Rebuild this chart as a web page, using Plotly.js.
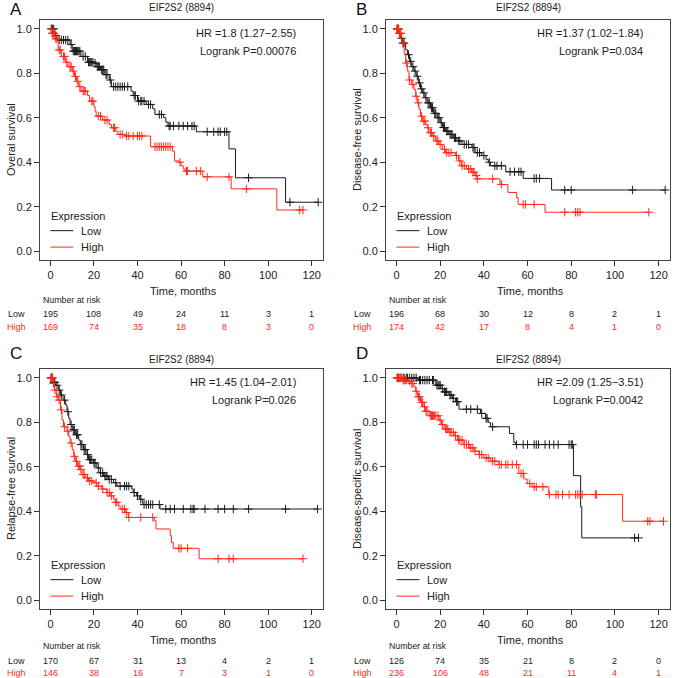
<!DOCTYPE html>
<html><head><meta charset="utf-8">
<script src="https://cdn.plot.ly/plotly-3.0.1.min.js"></script>
<style>html,body{margin:0;padding:0;background:#fff}#chart{width:676px;height:678px}</style>
</head><body><div id="chart"></div>
<script>
// ---------- DATA ----------
const xTicks = [0, 20, 40, 60, 80, 100, 120];
const yTicks = [0, 0.2, 0.4, 0.6, 0.8, 1.0];
const geneTitle = "EIF2S2 (8894)";
const panelLetters = ["A", "B", "C", "D"];
const yTitles = ["Overal survival", "Disease-free survival", "Relapse-free survival", "Disease-specific survival"];
const hrTexts = ["HR =1.8 (1.27\u22122.55)", "HR =1.37 (1.02\u22121.84)", "HR =1.45 (1.04\u22122.01)", "HR =2.09 (1.25\u22123.51)"];
const pTexts = ["Logrank P=0.00076", "Logrank P=0.034", "Logrank P=0.026", "Logrank P=0.0042"];
const groupNames = ["Low", "High"];

// Number at risk
const riskLowA = [195, 108, 49, 24, 11, 3, 1];
const riskHighA = [169, 74, 35, 18, 8, 3, 0];
const riskLowB = [196, 68, 30, 12, 8, 2, 1];
const riskHighB = [174, 42, 17, 8, 4, 1, 0];
const riskLowC = [170, 67, 31, 13, 4, 2, 1];
const riskHighC = [146, 38, 16, 7, 3, 1, 0];
const riskLowD = [126, 74, 35, 21, 8, 2, 0];
const riskHighD = [236, 106, 48, 21, 11, 4, 1];

// Panel A (overall survival)
const lowA_t = [0, 2, 3, 9, 10, 14, 17, 20, 21, 23, 25, 27, 28, 37, 38, 40, 44, 47, 48, 52, 53, 54, 67, 82, 85, 108, 123];
const lowA_s = [1, 0.97, 0.95, 0.93, 0.90, 0.876, 0.85, 0.846, 0.83, 0.816, 0.794, 0.77, 0.74, 0.72, 0.70, 0.675, 0.66, 0.64, 0.615, 0.60, 0.58, 0.563, 0.537, 0.46, 0.33, 0.22, 0.22];
const lowA_c = [0.5, 1, 1.5, 2.5, 4, 5, 6, 7, 8, 9.5, 10.5, 11, 11.5, 12, 12.5, 13, 13.5, 15, 16, 17.5, 18, 18.5, 19, 19.5, 20.5, 21.5, 22, 22.5, 23.5, 24, 24.5, 25.5, 26, 27.5, 29, 30, 31, 32, 33, 34, 35.5, 38.5, 39, 40.5, 41.5, 42, 43, 45, 46, 50, 51, 54.5, 55, 56.5, 59, 61, 63, 65, 66, 72, 75, 77, 78, 80, 81, 91, 110, 123];
const highA_t = [0, 0.5, 2, 3.5, 5, 7, 8, 10, 11, 12, 13, 14, 17, 18, 20, 20.5, 21, 24, 27, 28, 30, 31, 34, 46, 56, 57, 59, 60, 61, 62, 70, 83, 104, 116];
const highA_s = [1, 0.98, 0.955, 0.905, 0.876, 0.85, 0.83, 0.81, 0.786, 0.764, 0.74, 0.72, 0.70, 0.675, 0.65, 0.63, 0.607, 0.59, 0.57, 0.555, 0.54, 0.525, 0.518, 0.47, 0.45, 0.406, 0.40, 0.384, 0.37, 0.36, 0.334, 0.28, 0.185, 0.185];
const highA_c = [0.3, 0.8, 1, 1.3, 1.8, 2.5, 3, 4, 4.5, 6, 6.5, 7.5, 9, 9.5, 10.5, 11.5, 12.5, 13.5, 15, 15.5, 16, 19, 19.5, 22, 23, 25, 26, 29, 29.5, 32, 33, 35, 36, 38, 40, 41, 42, 48, 49, 50, 51, 52, 53, 54, 55, 59.5, 62.5, 63, 67, 69, 72, 82, 90, 114.5, 116];

// Panel B (disease-free survival)
const lowB_t = [0, 1.2, 2, 2.7, 4.2, 5, 6, 7, 8, 9, 10, 11, 12, 13, 14, 15.6, 17, 18.6, 20, 21, 22.4, 24, 26, 27.7, 30, 34.5, 36, 39, 41, 42, 43, 50, 58, 71, 123];
const lowB_s = [1, 0.98, 0.958, 0.936, 0.906, 0.884, 0.854, 0.83, 0.81, 0.787, 0.757, 0.73, 0.712, 0.69, 0.667, 0.645, 0.62, 0.60, 0.578, 0.556, 0.54, 0.525, 0.51, 0.496, 0.48, 0.466, 0.443, 0.43, 0.413, 0.40, 0.384, 0.357, 0.327, 0.275, 0.275];
const lowB_c = [0.3, 0.6, 1, 1.5, 2.3, 3, 3.5, 5.5, 6.5, 7.5, 8.5, 9.5, 10.5, 11.5, 12.5, 13.5, 14.5, 15, 16, 16.5, 17.5, 18, 19, 19.5, 20.5, 21.5, 22, 23, 23.5, 24.5, 25, 25.5, 26.5, 27, 28.5, 29, 31, 32, 33, 35, 35.5, 37, 38, 40, 42.5, 45, 46, 48, 52, 54, 56, 57, 63, 64, 65.5, 77, 80, 108, 123];
const highB_t = [0, 1, 2.4, 3.5, 4.2, 5, 5.7, 7, 8, 8.8, 9.5, 10.3, 11, 12, 13.3, 14, 14.8, 16.3, 17.8, 19.4, 21, 22.4, 27, 28.4, 29.7, 32, 34.5, 36, 36.8, 47.4, 51, 55, 55.7, 68, 115.5];
const highB_s = [1, 0.98, 0.936, 0.89, 0.846, 0.81, 0.77, 0.75, 0.727, 0.697, 0.667, 0.637, 0.607, 0.585, 0.57, 0.555, 0.533, 0.518, 0.496, 0.48, 0.458, 0.443, 0.43, 0.406, 0.384, 0.37, 0.355, 0.34, 0.325, 0.30, 0.264, 0.24, 0.21, 0.175, 0.175];
const highB_c = [0.2, 0.5, 0.8, 1.3, 1.7, 2, 3, 4.5, 6, 7.5, 9, 10, 11.5, 12.5, 13, 14.5, 15.5, 16, 17, 18.5, 19, 20, 22, 23, 24, 25, 27.5, 29, 30, 31, 33, 34, 35, 35.5, 36.5, 37, 44, 48, 58, 59, 63, 77, 82, 83, 84, 115.5];

// Panel C (relapse-free survival)
const lowC_t = [0, 1, 2.3, 3.8, 4.6, 5.8, 7, 7.6, 8.4, 9, 10, 11.4, 13, 13.7, 15.2, 16.8, 17.5, 19.8, 21.3, 22.9, 24.4, 26.7, 29, 30.5, 37.3, 38, 39.6, 41, 42.4, 50.3, 122.7];
const lowC_s = [1, 0.98, 0.967, 0.945, 0.923, 0.90, 0.878, 0.848, 0.818, 0.79, 0.766, 0.744, 0.72, 0.70, 0.677, 0.655, 0.632, 0.617, 0.595, 0.573, 0.558, 0.543, 0.528, 0.513, 0.50, 0.484, 0.469, 0.454, 0.43, 0.41, 0.41];
const lowC_c = [0.3, 0.7, 1.5, 2, 3, 4, 5, 6.5, 8, 9.5, 10.5, 11, 12, 12.5, 14, 14.5, 15.5, 16, 17, 18, 18.5, 19, 20, 20.5, 22, 23, 24, 25, 25.5, 26, 27, 28, 30, 32, 34, 35, 36, 38.5, 40, 41.5, 43, 44, 45, 46, 47, 50, 53, 55, 57, 61, 64.5, 65.5, 66, 71, 77, 80, 84, 91, 108, 122.7];
const highC_t = [0, 1.2, 1.8, 2.7, 3.8, 4.6, 5.3, 6, 7.6, 8.4, 9, 10, 10.7, 11.4, 12.5, 13.7, 14.5, 16, 17.5, 19.8, 21.3, 23.6, 25.9, 27.4, 29, 29.7, 31.3, 32, 34.3, 35.8, 47.7, 48.5, 55, 55.6, 56.4, 68.3, 116];
const highC_s = [1, 0.975, 0.945, 0.915, 0.90, 0.856, 0.81, 0.78, 0.76, 0.737, 0.707, 0.677, 0.647, 0.625, 0.603, 0.588, 0.565, 0.55, 0.536, 0.528, 0.513, 0.50, 0.484, 0.469, 0.454, 0.44, 0.424, 0.41, 0.394, 0.372, 0.357, 0.32, 0.29, 0.26, 0.233, 0.186, 0.186];
const highC_c = [0.2, 0.5, 0.8, 1, 1.5, 2, 3, 4, 5, 6.5, 8, 9.5, 11, 12, 13, 13.5, 14, 15, 15.5, 17, 18, 19, 21, 22, 24, 26, 27, 28, 30, 30.5, 33, 34, 35, 36, 41.5, 47, 59, 60, 63, 77, 82, 84, 116];

// Panel D (disease-specific survival)
const lowD_t = [0, 10, 18, 20.2, 21.8, 24, 25.6, 27, 28.6, 38.5, 40.8, 42, 43, 51.7, 53.7, 54.5, 81, 84.3, 84.8, 110.8];
const lowD_s = [1, 0.99, 0.967, 0.952, 0.937, 0.923, 0.908, 0.893, 0.859, 0.84, 0.818, 0.80, 0.78, 0.75, 0.71, 0.70, 0.56, 0.42, 0.28, 0.28];
const lowD_c = [0.5, 1, 2, 3, 3.5, 4.5, 5, 6, 7, 8, 9, 10.5, 11, 12, 13, 14, 15, 16.5, 17, 18.5, 19, 19.5, 20, 21, 22, 22.5, 23, 24.5, 25, 26, 27.5, 28, 32, 34, 37, 39, 41, 41.5, 44, 55, 58, 60, 63, 64, 65, 68, 70, 72, 74, 79, 80, 80.5, 109, 110.8];
const highD_t = [0, 2.5, 5, 6.5, 8, 8.8, 9.6, 11, 12.2, 13.4, 15, 19.5, 20.7, 21.8, 24, 26.3, 27.9, 30.9, 33.2, 35.5, 37.7, 40, 43, 46.9, 56, 58.3, 59.8, 62, 69.7, 103.5, 122.2];
const highD_s = [1, 0.99, 0.985, 0.975, 0.96, 0.94, 0.915, 0.89, 0.87, 0.85, 0.83, 0.81, 0.79, 0.77, 0.755, 0.74, 0.72, 0.70, 0.685, 0.67, 0.655, 0.64, 0.625, 0.61, 0.57, 0.545, 0.525, 0.51, 0.475, 0.355, 0.355];
const highD_c = [0.2, 0.5, 1, 1.5, 2, 3, 3.5, 4, 4.5, 6, 7, 7.5, 9, 10, 10.5, 11.5, 12, 12.8, 13.5, 14, 15.5, 16, 16.5, 17, 17.5, 18, 19, 20, 21, 22.5, 23, 23.5, 24.5, 25, 26, 27, 28.5, 29, 30, 31, 32, 33, 34, 35, 36, 38, 39, 41, 42, 44, 45, 47, 48, 50, 51, 53, 55, 57, 58, 61, 63, 64, 67, 70, 73, 74, 76, 79, 82, 83, 84, 85, 91, 91.5, 115, 116, 122.2];

// ---------- BUILD ----------
const W = 676, H = 678;
const FONT = "Liberation Sans, Arial, Helvetica, sans-serif";
const COL_LOW = "#1a1a1a", COL_HIGH = "#ff2a1a";
const px = v => v / W;
const py = v => 1 - v / H;

const panels = [
  {low: [lowA_t, lowA_s, lowA_c], high: [highA_t, highA_s, highA_c], risk: [riskLowA, riskHighA], x0: 40, x1: 323, y0: 20, y1: 260, rowY: [300, 314, 327], titleY: 8, letterY: 9},
  {low: [lowB_t, lowB_s, lowB_c], high: [highB_t, highB_s, highB_c], risk: [riskLowB, riskHighB], x0: 386, x1: 670, y0: 20, y1: 260, rowY: [300, 314, 327], titleY: 8, letterY: 9},
  {low: [lowC_t, lowC_s, lowC_c], high: [highC_t, highC_s, highC_c], risk: [riskLowC, riskHighC], x0: 40, x1: 323, y0: 369, y1: 609, rowY: [646, 661, 673], titleY: 359, letterY: 353},
  {low: [lowD_t, lowD_s, lowD_c], high: [highD_t, highD_s, highD_c], risk: [riskLowD, riskHighD], x0: 386, x1: 670, y0: 369, y1: 609, rowY: [646, 661, 673], titleY: 359, letterY: 353}
];

function stepAt(ts, ss, c) {
  let v = ss[0];
  for (let i = 0; i < ts.length; i++) if (ts[i] <= c) v = ss[i];
  return v;
}

const traces = [];
const annotations = [];
const shapes = [];
const layout = {
  width: W, height: H, margin: {l: 0, r: 0, t: 0, b: 0},
  paper_bgcolor: "#fff", plot_bgcolor: "#fff", showlegend: false,
  font: {family: FONT, color: "#222"}
};

panels.forEach((p, i) => {
  const n = i + 1;
  const xa = n === 1 ? "x" : "x" + n;
  const ya = n === 1 ? "y" : "y" + n;
  const xKey = n === 1 ? "xaxis" : "xaxis" + n;
  const yKey = n === 1 ? "yaxis" : "yaxis" + n;
  layout[xKey] = {
    domain: [px(p.x0), px(p.x1)], anchor: ya, range: [-4.8, 125.2],
    tickvals: xTicks, ticks: "outside", ticklen: 5, tickwidth: 1, tickcolor: "#333",
    showline: true, mirror: true, linecolor: "#444", linewidth: 1,
    showgrid: false, zeroline: false, fixedrange: true,
    tickfont: {family: FONT, size: 11, color: "#222"}
  };
  layout[yKey] = {
    domain: [py(p.y1), py(p.y0)], anchor: xa, range: [-0.04, 1.04],
    tickvals: yTicks, tickformat: ".1f", ticks: "outside", ticklen: 5, tickwidth: 1, tickcolor: "#333",
    showline: true, mirror: true, linecolor: "#444", linewidth: 1,
    showgrid: false, zeroline: false, fixedrange: true,
    tickfont: {family: FONT, size: 11, color: "#222"}
  };
  [[p.low, COL_LOW], [p.high, COL_HIGH]].forEach(([g, col]) => {
    traces.push({type: "scatter", mode: "lines", x: g[0], y: g[1], xaxis: xa, yaxis: ya,
      line: {shape: "hv", color: col, width: 1}, hoverinfo: "skip"});
    traces.push({type: "scatter", mode: "markers", x: g[2], y: g[2].map(c => stepAt(g[0], g[1], c)),
      xaxis: xa, yaxis: ya, hoverinfo: "skip",
      marker: {symbol: "cross-thin", size: 6, color: col, line: {color: col, width: 1}}});
  });
  const cx = (p.x0 + p.x1) / 2;
  const cy = (p.y0 + p.y1) / 2;
  annotations.push({xref: "paper", yref: "paper", x: px(p.x0 - 32), y: py(p.letterY), xanchor: "left", yanchor: "middle",
    text: panelLetters[i], showarrow: false, font: {family: FONT, size: 17, color: "#111"}});
  annotations.push({xref: "paper", yref: "paper", x: px(cx), y: py(p.titleY), xanchor: "center", yanchor: "middle",
    text: geneTitle, showarrow: false, font: {family: FONT, size: 10, color: "#222"}});
  annotations.push({xref: "paper", yref: "paper", x: px(p.x0 - 29), y: py(cy), xanchor: "center", yanchor: "middle",
    text: yTitles[i], textangle: -90, showarrow: false, font: {family: FONT, size: 11, color: "#222"}});
  annotations.push({xref: "paper", yref: "paper", x: px(cx + 2), y: py(p.y1 + 31), xanchor: "center", yanchor: "middle",
    text: "Time, months", showarrow: false, font: {family: FONT, size: 11, color: "#222"}});
  const rx = p.x1 - 25;
  annotations.push({xref: "paper", yref: "paper", x: px(rx), y: py(p.y0 + 13), xanchor: "right", yanchor: "middle",
    text: hrTexts[i], showarrow: false, font: {family: FONT, size: 11, color: "#222"}});
  annotations.push({xref: "paper", yref: "paper", x: px(rx), y: py(p.y0 + 31), xanchor: "right", yanchor: "middle",
    text: pTexts[i], showarrow: false, font: {family: FONT, size: 11, color: "#222"}});
  annotations.push({xref: xa, yref: ya, x: -0.5, y: 0.16, xanchor: "left", yanchor: "middle",
    text: "Expression", showarrow: false, font: {family: FONT, size: 11, color: "#222"}});
  [[0.092, COL_LOW, groupNames[0]], [0.018, COL_HIGH, groupNames[1]]].forEach(([ly, col, lab]) => {
    shapes.push({type: "line", xref: xa, yref: ya, x0: 0, x1: 10.5, y0: ly, y1: ly, line: {color: col, width: 1}});
    annotations.push({xref: xa, yref: ya, x: 13, y: ly, xanchor: "left", yanchor: "middle",
      text: lab, showarrow: false, font: {family: FONT, size: 11, color: "#222"}});
  });
  annotations.push({xref: "paper", yref: "paper", x: px(p.x0 + 1), y: py(p.rowY[0]), xanchor: "left", yanchor: "middle",
    text: "Number at risk", showarrow: false, font: {family: FONT, size: 8.8, color: "#222"}});
  [[p.risk[0], "#222", groupNames[0], p.rowY[1]], [p.risk[1], COL_HIGH, groupNames[1], p.rowY[2]]].forEach(([vals, col, lab, yy]) => {
    annotations.push({xref: "paper", yref: "paper", x: px(p.x0 - 24), y: py(yy), xanchor: "center", yanchor: "middle",
      text: lab, showarrow: false, font: {family: FONT, size: 9, color: col}});
    vals.forEach((v, k) => {
      annotations.push({xref: xa, yref: "paper", x: xTicks[k], y: py(yy), xanchor: "center", yanchor: "middle",
        text: String(v), showarrow: false, font: {family: FONT, size: 9, color: col}});
    });
  });
});

layout.annotations = annotations;
layout.shapes = shapes;
Plotly.newPlot("chart", traces, layout, {staticPlot: true, displayModeBar: false});
</script>
</body></html>
